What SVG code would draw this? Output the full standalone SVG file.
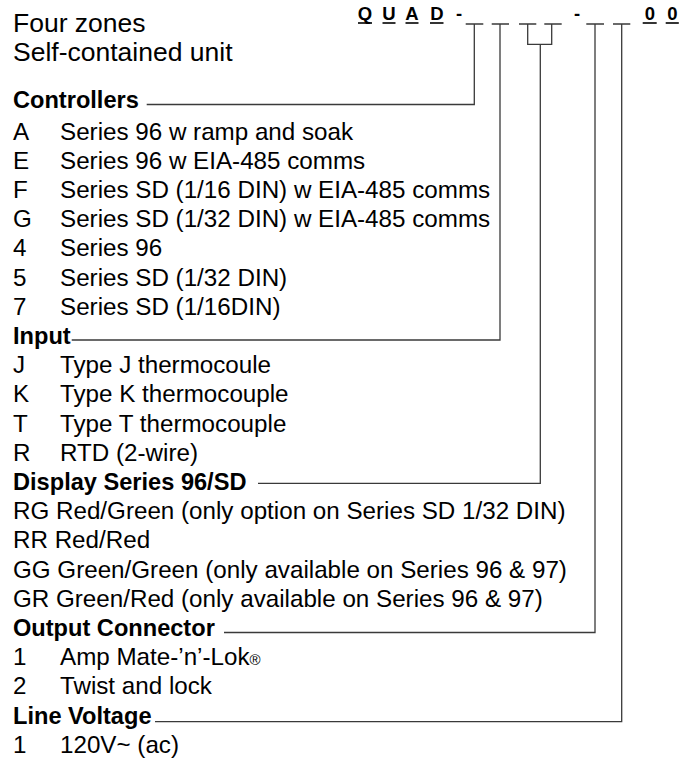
<svg xmlns="http://www.w3.org/2000/svg" width="681" height="759" viewBox="0 0 681 759">
<style>
text{font-family:"Liberation Sans",Arial,Helvetica,sans-serif;fill:#000}
.t{font-size:26.5px}
.r{font-size:24.2px}
.b{font-size:23.6px;font-weight:bold}
.c{font-size:18.5px;font-weight:bold;text-anchor:middle}
.ul{stroke:#000;stroke-width:1.6}
.cn{fill:none;stroke:#3a3a3a;stroke-width:1.3}
</style>
<rect width="681" height="759" fill="#fff"/>
<g id="title">
<text class="t" x="13" y="32">Four zones</text>
<text class="t" x="13" y="61">Self-contained unit</text>
</g>
<g id="code">
<text class="c" x="365" y="20">Q</text>
<text class="c" x="389" y="20">U</text>
<text class="c" x="412" y="20">A</text>
<text class="c" x="437" y="20">D</text>
<text class="c" x="459" y="20">-</text>
<text class="c" x="577" y="20">-</text>
<text class="c" x="650" y="20">0</text>
<text class="c" x="672.3" y="20">0</text>
<line class="ul" x1="358" y1="23" x2="372" y2="23"/>
<line class="ul" x1="382.5" y1="23" x2="395.5" y2="23"/>
<line class="ul" x1="405.5" y1="23" x2="418.5" y2="23"/>
<line class="ul" x1="430" y1="23" x2="443.5" y2="23"/>
<line class="ul" x1="642.7" y1="23" x2="656.7" y2="23"/>
<line class="ul" x1="665.7" y1="23" x2="678.8" y2="23"/>
</g>
<g id="controllers">
<text class="b" x="13" y="108">Controllers</text>
<text class="r" x="13" y="139.5">A</text><text class="r" x="60" y="139.5">Series 96 w ramp and soak</text>
<text class="r" x="13" y="168.7">E</text><text class="r" x="60" y="168.7">Series 96 w EIA-485 comms</text>
<text class="r" x="13" y="197.9">F</text><text class="r" x="60" y="197.9">Series SD (1/16 DIN) w EIA-485 comms</text>
<text class="r" x="13" y="227.1">G</text><text class="r" x="60" y="227.1">Series SD (1/32 DIN) w EIA-485 comms</text>
<text class="r" x="13" y="256.3">4</text><text class="r" x="60" y="256.3">Series 96</text>
<text class="r" x="13" y="285.5">5</text><text class="r" x="60" y="285.5">Series SD (1/32 DIN)</text>
<text class="r" x="13" y="314.7">7</text><text class="r" x="60" y="314.7">Series SD (1/16DIN)</text>
</g>
<g id="input">
<text class="b" x="13" y="343.9">Input</text>
<text class="r" x="13" y="373.1">J</text><text class="r" x="60" y="373.1">Type J thermocoule</text>
<text class="r" x="13" y="402.3">K</text><text class="r" x="60" y="402.3">Type K thermocouple</text>
<text class="r" x="13" y="431.5">T</text><text class="r" x="60" y="431.5">Type T thermocouple</text>
<text class="r" x="13" y="460.7">R</text><text class="r" x="60" y="460.7">RTD (2-wire)</text>
</g>
<g id="display">
<text class="b" x="13" y="489.9">Display Series 96/SD</text>
<text class="r" x="13" y="519.1">RG Red/Green (only option on Series SD 1/32 DIN)</text>
<text class="r" x="13" y="548.3">RR Red/Red</text>
<text class="r" x="13" y="577.5">GG Green/Green (only available on Series 96 &amp; 97)</text>
<text class="r" x="13" y="606.7">GR Green/Red (only available on Series 96 &amp; 97)</text>
</g>
<g id="output">
<text class="b" x="13" y="635.9">Output Connector</text>
<text class="r" x="13" y="665.1">1</text><text class="r" x="60" y="665.1">Amp Mate-’n’-Lok<tspan font-size="15">®</tspan></text>
<text class="r" x="13" y="694.3">2</text><text class="r" x="60" y="694.3">Twist and lock</text>
</g>
<g id="voltage">
<text class="b" x="13" y="723.5">Line Voltage</text>
<text class="r" x="13" y="752.7">1</text><text class="r" x="60" y="752.7">120V~ (ac)</text>
</g>
<g id="connectors">
<path class="cn" d="M465.7,24H483.3M491.7,24H509M519,24H536.3M544.3,24H561.7M586.3,24H604M613,24H630.3"/>
<path class="cn" d="M146.7,104.5H474.3V24"/>
<path class="cn" d="M71.7,340H500V24"/>
<path class="cn" d="M527.7,24V44.3H551.7V24M540.3,44.3V483.3H258"/>
<path class="cn" d="M224,632.5H595V24"/>
<path class="cn" d="M155,721.7H621.7V24"/>
</g>
</svg>
